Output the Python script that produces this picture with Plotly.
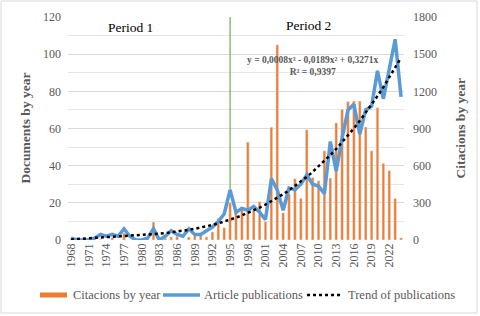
import numpy as np
import plotly.graph_objects as go

years = list(range(1968, 2025))
articles = [1, 0, 0, 0, 1, 3, 2, 3, 2, 6,
            2, 0, 0, 1, 6, 0, 2, 5, 3, 2,
            6, 3, 3, 5, 7, 10, 14, 27, 15, 17,
            16, 18, 15, 11, 33, 27, 16, 28, 27, 30,
            35, 30, 29, 25, 53, 37, 55, 70, 73, 57,
            70, 72, 91, 76, 91, 108, 77]
citations = [0, 0, 0, 0, 0, 5, 0, 20, 0, 55,
             0, 0, 0, 10, 145, 0, 15, 25, 30, 0,
             25, 35, 40, 25, 65, 175, 100, 300, 250, 265,
             790, 240, 310, 150, 910, 1575, 220, 370, 495, 336,
             890, 505, 478, 720, 500, 945, 1055, 1117, 1122, 1122,
             912, 720, 1068, 619, 560, 335, 17]
tick_years = years[::3]
period_split = 1995
legend_names = ["Citacions by year", "Article publications", "Trend of publications"]
equation = "y = 0,0008x³ - 0,0189x² + 0,3271x"
r2_text = "R² = 0,9397"

# cubic trend through origin (like the spreadsheet trendline)
xs = np.arange(1, len(years) + 1, dtype=float)
A = np.vstack([xs**3, xs**2, xs]).T
coef, *_ = np.linalg.lstsq(A, np.array(articles, dtype=float), rcond=None)
trend = A @ coef

FONT = '"Liberation Serif", "Times New Roman", serif'
GRAY = "#595959"
ORANGE = "#ED7D31"
BLUE = "#5B9BD5"
GREEN = "#70AD47"

# plot-area geometry (px) for paper-coordinate conversion
L, R, T, B, W, H = 68, 76, 17, 76, 480, 316
PW, PH = W - L - R, H - T - B
def px(x):
    return (x - L) / PW
def py(y):
    return (H - B - y) / PH

fig = go.Figure()
fig.add_trace(go.Bar(x=years, y=citations, yaxis="y", marker_color=ORANGE,
                     width=0.45, showlegend=False, name=legend_names[0]))
fig.add_trace(go.Scatter(x=[period_split, period_split],
                         y=[articles[years.index(period_split)], 120],
                         yaxis="y2", mode="lines", line=dict(color=GREEN, width=1.2),
                         showlegend=False, hoverinfo="skip"))
fig.add_trace(go.Scatter(x=years, y=articles, yaxis="y2", mode="lines",
                         line=dict(color=BLUE, width=3.5), showlegend=False,
                         name=legend_names[1]))
fig.add_trace(go.Scatter(x=years, y=trend, yaxis="y2", mode="lines",
                         line=dict(color="black", width=2.5, dash="dot"),
                         showlegend=False, name=legend_names[2]))

fig.update_layout(
    width=W, height=H,
    margin=dict(l=L, r=R, t=T, b=B, autoexpand=False),
    paper_bgcolor="white", plot_bgcolor="white",
    font=dict(family=FONT, size=12, color=GRAY),
    showlegend=False,
    xaxis=dict(range=[years[0] - 0.5, years[-1] + 0.5], tickvals=tick_years,
               ticktext=[str(y) for y in tick_years], tickangle=-90,
               showgrid=False, zeroline=False, showline=False, ticks="",
               automargin=False, tickfont=dict(size=12, color=GRAY, family=FONT)),
    yaxis=dict(range=[0, 1800], dtick=300, side="right", showgrid=True,
               gridcolor="#d9d9d9", gridwidth=1, zeroline=False, ticks="",
               minor=dict(dtick=150, showgrid=True, gridcolor="#e7e7e7"),
               ticklabelstandoff=8, automargin=False,
               tickfont=dict(size=12, color=GRAY, family=FONT)),
    yaxis2=dict(range=[0, 120], dtick=20, side="left", overlaying="y",
                showgrid=False, zeroline=False, ticks="",
                ticklabelstandoff=6, automargin=False,
                tickfont=dict(size=12, color=GRAY, family=FONT)),
)

def note(text, x, y, size, color, angle=0, xanchor="center"):
    fig.add_annotation(text=text, xref="paper", yref="paper", x=px(x), y=py(y),
                       xanchor=xanchor, yanchor="middle", textangle=angle,
                       showarrow=False, align="center",
                       font=dict(size=size, color=color, family=FONT))

note("<b>Documents by year</b>", 25, 128.5, 13.5, GRAY, angle=-90)
note("<b>Citacions by year</b>", 460, 128.5, 13.5, GRAY, angle=-90)
note("Period 1", 130, 27, 13.5, "black")
note("Period 2", 308, 25, 13.5, "black")
note("<b>" + equation + "</b><br><b>" + r2_text + "</b>", 313, 65.5, 9.5, GRAY)

# manual legend
ly = 295
legend_items = [
    (40, 67, dict(color=ORANGE, width=5), 71),
    (163, 200, dict(color=BLUE, width=3.5), 202),
    (307, 342, dict(color="black", width=2.5, dash="dot"), 346),
]
for (x0, x1, ln, tx), name in zip(legend_items, legend_names):
    fig.add_shape(type="line", xref="paper", yref="paper",
                  x0=px(x0), x1=px(x1), y0=py(ly), y1=py(ly), line=ln)
    note(name, tx, ly, 12.5, GRAY, xanchor="left")

fig.add_shape(type="rect", xref="paper", yref="paper",
              x0=px(1), x1=px(477), y0=py(313), y1=py(1),
              line=dict(color="#d9d9d9", width=1))

fig.write_html("out.html", config={"displayModeBar": False},
               post_script="document.body.style.margin='0';document.body.style.padding='0';")
